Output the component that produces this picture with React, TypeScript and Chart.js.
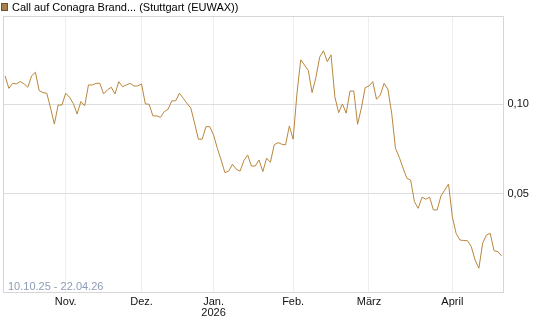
import React, { useEffect, useRef } from "react";
import { Chart, registerables } from "chart.js";

Chart.register(...registerables);

const seriesName = "Call auf Conagra Brand... (Stuttgart (EUWAX))";
const rangeLabel = "10.10.25 - 22.04.26";

// one value per trading day, 10.10.25 .. 22.04.26
const prices: number[] = [
  0.1159, 0.109, 0.1118, 0.1115, 0.1128, 0.1115, 0.1096, 0.116, 0.118, 0.1077,
  0.1066, 0.1063, 0.098, 0.089, 0.0997, 0.0997, 0.1063, 0.104, 0.1005, 0.0947,
  0.1016, 0.0992, 0.1109, 0.1109, 0.1118, 0.1118, 0.1059, 0.1081, 0.1096, 0.1059,
  0.1127, 0.1099, 0.1109, 0.1118, 0.1103, 0.1103, 0.1115, 0.1003, 0.1001, 0.0936,
  0.0936, 0.0928, 0.096, 0.0973, 0.102, 0.102, 0.1063, 0.1035, 0.1005, 0.098,
  0.0895, 0.0806, 0.0806, 0.0876, 0.0876, 0.083, 0.0755, 0.069, 0.0619, 0.0628,
  0.0666, 0.0638, 0.0628, 0.0686, 0.0718, 0.0656, 0.0656, 0.069, 0.0625, 0.07,
  0.0677, 0.0774, 0.0787, 0.0778, 0.0774, 0.088, 0.0806, 0.106, 0.1249, 0.122,
  0.119, 0.1066, 0.115, 0.1264, 0.13, 0.1239, 0.1277, 0.1044, 0.0954, 0.1003,
  0.0951, 0.1075, 0.1075, 0.0889, 0.098, 0.1094, 0.1103, 0.1127, 0.1029, 0.1053,
  0.1118, 0.1085, 0.0951, 0.0755, 0.0705, 0.0644, 0.0588, 0.0578, 0.0457, 0.042,
  0.0482, 0.0471, 0.0482, 0.0411, 0.0411, 0.0489, 0.0522, 0.0556, 0.0373, 0.028,
  0.0243, 0.024, 0.0239, 0.0206, 0.0131, 0.0085, 0.0225, 0.0271, 0.028, 0.0183,
  0.0178, 0.0154,
];

// index of the first trading day of each month
const monthTickIndex: number[] = [16, 36, 55, 76, 96, 118];
const monthTickLabels: (string | string[])[] = ["Nov.", "Dez.", ["Jan.", "2026"], "Feb.", "März", "April"];

const yTickValues: number[] = [0.05, 0.1];
const yTickLabels: string[] = ["0,05", "0,10"];

const lineColor = "#b8873c";
const FONT = "'Liberation Sans', Arial, sans-serif";

export default function App() {
  const ref = useRef<HTMLCanvasElement | null>(null);

  useEffect(() => {
    if (!ref.current) return;
    const overlay = {
      id: "overlay",
      afterDraw(chart: any) {
        const { ctx, chartArea } = chart;
        ctx.save();
        // frame
        ctx.strokeStyle = "#d6d6d6";
        ctx.lineWidth = 1;
        ctx.strokeRect(
          Math.round(chartArea.left) + 0.5,
          Math.round(chartArea.top) + 0.5,
          Math.round(chartArea.right - chartArea.left) - 1,
          Math.round(chartArea.bottom - chartArea.top) - 1
        );
        // legend
        ctx.fillStyle = "#a98048";
        ctx.fillRect(1, 3, 7, 8);
        ctx.strokeStyle = "#6e5230";
        ctx.strokeRect(1.5, 3.5, 6, 7);
        ctx.fillStyle = "#000";
        ctx.font = `11px ${FONT}`;
        ctx.textBaseline = "alphabetic";
        ctx.textAlign = "left";
        ctx.fillText(seriesName, 12, 11);
        // date range
        ctx.fillStyle = "#8c9cb6";
        ctx.fillText(rangeLabel, 8, 290);
        ctx.restore();
      },
    };

    const chart = new Chart(ref.current, {
      type: "line",
      data: {
        datasets: [
          {
            label: seriesName,
            data: prices.map((v, i) => ({ x: i, y: v })),
            borderColor: lineColor,
            borderWidth: 1,
            pointRadius: 0,
            tension: 0,
            fill: false,
          },
        ],
      },
      options: {
        responsive: false,
        animation: false,
        layout: { padding: { left: 3, top: 16, right: 0, bottom: 0 } },
        plugins: { legend: { display: false }, tooltip: { enabled: false } },
        scales: {
          x: {
            type: "linear",
            min: -0.55,
            max: 131.5,
            afterBuildTicks: (scale: any) => {
              scale.ticks = monthTickIndex.map((v) => ({ value: v }));
            },
            afterFit: (scale: any) => {
              scale.height = 34;
            },
            ticks: {
              autoSkip: false,
              maxRotation: 0,
              padding: 3,
              color: "#111",
              font: { family: FONT, size: 11, lineHeight: 1.0 },
              callback: (value: any) => {
                const k = monthTickIndex.indexOf(Number(value));
                return k >= 0 ? monthTickLabels[k] : "";
              },
            },
            grid: { color: "#eeeeee", drawTicks: false },
            border: { display: false },
          },
          y: {
            type: "linear",
            position: "right",
            min: -0.0053,
            max: 0.1494,
            afterBuildTicks: (scale: any) => {
              scale.ticks = yTickValues.map((v) => ({ value: v }));
            },
            afterFit: (scale: any) => {
              scale.width = 41.5;
            },
            ticks: {
              padding: 4,
              color: "#111",
              font: { family: FONT, size: 11 },
              callback: (value: any) => {
                const k = yTickValues.findIndex((t) => Math.abs(t - Number(value)) < 1e-9);
                return k >= 0 ? yTickLabels[k] : "";
              },
            },
            grid: { color: "#dddddd", drawTicks: false },
            border: { display: false },
          },
        },
      },
      plugins: [overlay],
    });
    return () => chart.destroy();
  }, []);

  return (
    <div style={{ position: "absolute", left: 0, top: 0, width: 545, height: 327, background: "#fff" }}>
      <canvas ref={ref} width={545} height={327} style={{ width: 545, height: 327, display: "block" }} />
    </div>
  );
}
